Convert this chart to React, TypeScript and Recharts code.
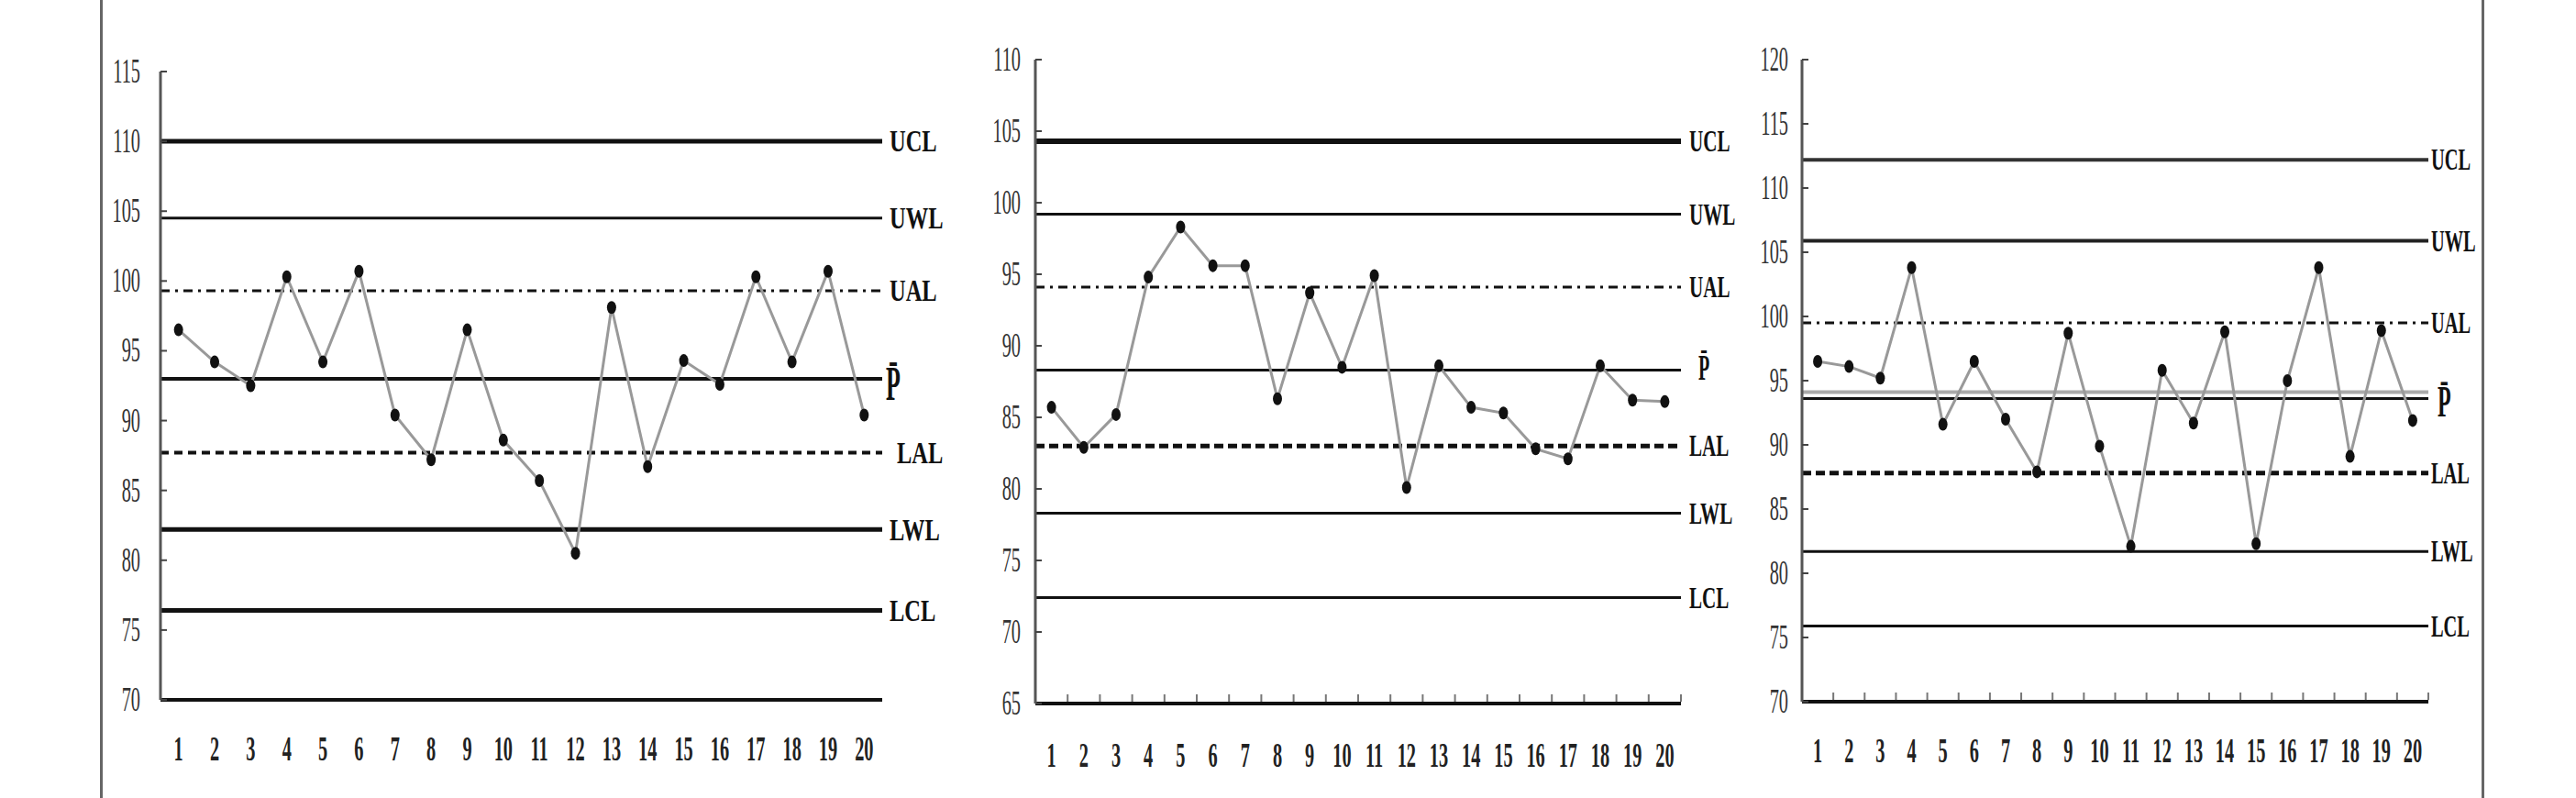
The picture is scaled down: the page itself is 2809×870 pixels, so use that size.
import { LineChart, Line, XAxis, YAxis, ReferenceLine } from 'recharts'

const categories = [1, 2, 3, 4, 5, 6, 7, 8, 9, 10, 11, 12, 13, 14, 15, 16, 17, 18, 19, 20]

const chart1Values = [96.5, 94.2, 92.5, 100.3, 94.2, 100.7, 90.4, 87.2, 96.5, 88.6, 85.7, 80.5, 98.1, 86.7, 94.3, 92.6, 100.3, 94.2, 100.7, 90.4]
const chart2Values = [85.7, 82.9, 85.2, 94.8, 98.3, 95.6, 95.6, 86.3, 93.7, 88.5, 94.9, 80.1, 88.6, 85.7, 85.3, 82.8, 82.1, 88.6, 86.2, 86.1]
const chart3Values = [96.5, 96.1, 95.2, 103.8, 91.6, 96.5, 92.0, 87.9, 98.7, 89.9, 82.1, 95.8, 91.7, 98.8, 82.3, 95.0, 103.8, 89.1, 98.9, 91.9]

const limitNames = ['UCL', 'UWL', 'UAL', 'P\u0304', 'LAL', 'LWL', 'LCL']
const chart1Limits = [110, 104.5, 99.3, 93, 87.7, 82.2, 76.4]
const chart2Limits = [104.3, 99.2, 94.1, 88.3, 83.0, 78.3, 72.4]
const chart3Limits = [112.2, 105.9, 99.5, 93.6, 87.8, 81.7, 75.9]
const chart3MeanShadow = 94.1

const chart1Ticks = [70, 75, 80, 85, 90, 95, 100, 105, 110, 115]
const chart2Ticks = [65, 70, 75, 80, 85, 90, 95, 100, 105, 110]
const chart3Ticks = [70, 75, 80, 85, 90, 95, 100, 105, 110, 115, 120]

const serif = '"Liberation Serif", "Times New Roman", serif'

// line style per limit: width + dash
type LimitStyle = { w: number; dash?: string; color?: string }
const chart1Styles: LimitStyle[] = [
  { w: 5 }, { w: 3 }, { w: 3, dash: '10 6 3 6' }, { w: 4 }, { w: 4, dash: '9 6' }, { w: 5 }, { w: 5 },
]
const chart2Styles: LimitStyle[] = [
  { w: 6 }, { w: 3 }, { w: 3, dash: '10 6 3 6' }, { w: 3 }, { w: 5, dash: '10 5' }, { w: 3 }, { w: 3 },
]
const chart3Styles: LimitStyle[] = [
  { w: 4, color: '#333' }, { w: 4, color: '#222' }, { w: 3, dash: '10 6 3 6' }, { w: 3 }, { w: 5, dash: '10 5' }, { w: 3 }, { w: 3 },
]

type LabelOpts = { size: number; sx: number; dx: number; barSize: number; barSx: number; barDx: number; barDy: number; lalDx?: number }

function limitLabel(text: string, isBar: boolean, o: LabelOpts, extraDx = 0) {
  return (props: any) => {
    const vb = props.viewBox || { x: 0, y: 0, width: 0 }
    const x = vb.x + vb.width
    const y = vb.y
    const size = isBar ? o.barSize : o.size
    const sx = isBar ? o.barSx : o.sx
    const dx = (isBar ? o.barDx : o.dx) + extraDx
    const dy = isBar ? o.barDy : 0
    return (
      <text
        transform={`translate(${x + dx},${y + dy + size * 0.33}) scale(${sx},1)`}
        fontFamily={serif}
        fontWeight="bold"
        fontSize={size}
        fill="#111"
      >
        {text}
      </text>
    )
  }
}

function yTick(gap: number) {
  return (p: any) => (
    <g transform={`translate(${p.x},${p.y})`}>
      <line x1={0} y1={0} x2={7} y2={0} stroke="#444" strokeWidth={2} />
      <text transform={`translate(${-gap},12) scale(0.55,1)`} textAnchor="end" fontFamily={serif} fontSize={37} fill="#333">
        {p.payload.value}
      </text>
    </g>
  )
}

function xTick(dy: number, step: number, marks: boolean) {
  return (p: any) => (
    <g transform={`translate(${p.x},${p.y})`}>
      {marks && <line x1={step / 2} y1={-2} x2={step / 2} y2={-10} stroke="#777" strokeWidth={2} />}
      <text transform={`translate(0,${dy}) scale(0.55,1)`} textAnchor="middle" fontFamily={serif} fontWeight="bold" fontSize={37} fill="#222">
        {p.payload.value}
      </text>
    </g>
  )
}

const dotShape = (p: any) => <ellipse key={p.index} cx={p.cx} cy={p.cy} rx={5} ry={7} fill="#111" />

interface ChartProps {
  left: number
  width: number
  margin: { top: number; right: number; bottom: number; left: number }
  values: number[]
  limits: number[]
  styles: LimitStyle[]
  ticks: number[]
  domain: [number, number]
  yGap: number
  xDy: number
  marks: boolean
  label: LabelOpts
  shadowMean?: number
}

function ControlChart({ left, width, margin, values, limits, styles, ticks, domain, yGap, xDy, marks, label, shadowMean }: ChartProps) {
  const data = categories.map((n, i) => ({ n, v: values[i] }))
  const plotW = width - margin.left - margin.right - 60
  const step = plotW / categories.length
  return (
    <div style={{ position: 'absolute', left, top: 0 }}>
      <LineChart width={width} height={870} data={data} margin={margin}>
        <XAxis
          dataKey="n"
          type="category"
          scale="band"
          interval={0}
          height={60}
          tickSize={0}
          tickMargin={0}
          tickLine={false}
          axisLine={{ stroke: '#111', strokeWidth: 4 }}
          tick={xTick(xDy, step, marks)}
        />
        <YAxis
          type="number"
          domain={domain}
          ticks={ticks}
          interval={0}
          width={60}
          tickSize={0}
          tickMargin={0}
          tickLine={false}
          axisLine={{ stroke: '#555', strokeWidth: 3 }}
          tick={yTick(yGap)}
        />
        {shadowMean !== undefined && <ReferenceLine y={shadowMean} stroke="#aaa" strokeWidth={4} />}
        {limits.map((val, i) => (
          <ReferenceLine
            key={limitNames[i]}
            y={val}
            stroke={styles[i].color || '#111'}
            strokeWidth={styles[i].w}
            strokeDasharray={styles[i].dash}
            label={limitLabel(limitNames[i], i === 3, label, i === 4 ? label.lalDx || 0 : 0)}
          />
        ))}
        <Line
          type="linear"
          dataKey="v"
          stroke="#999"
          strokeWidth={3}
          dot={dotShape}
          activeDot={false}
          isAnimationActive={false}
        />
      </LineChart>
    </div>
  )
}

export default function App() {
  return (
    <div style={{ position: 'absolute', left: 0, top: 0, width: 2809, height: 870, background: '#fff' }}>
      <div style={{ position: 'absolute', left: 109, top: 0, width: 3, height: 870, background: '#666' }} />
      <div style={{ position: 'absolute', left: 2706, top: 0, width: 3, height: 870, background: '#666' }} />
      <ControlChart
        left={0}
        width={1060}
        margin={{ top: 78, right: 98, bottom: 47, left: 115 }}
        values={chart1Values}
        limits={chart1Limits}
        styles={chart1Styles}
        ticks={chart1Ticks}
        domain={[70, 115]}
        yGap={22}
        xDy={66}
        marks={false}
        label={{ size: 34, sx: 0.72, dx: 8, barSize: 52, barSx: 0.5, barDx: 4, barDy: 6, lalDx: 8 }}
      />
      <ControlChart
        left={1000}
        width={900}
        margin={{ top: 65, right: 67, bottom: 43, left: 69 }}
        values={chart2Values}
        limits={chart2Limits}
        styles={chart2Styles}
        ticks={chart2Ticks}
        domain={[65, 110]}
        yGap={16}
        xDy={69}
        marks={true}
        label={{ size: 34, sx: 0.62, dx: 9, barSize: 40, barSx: 0.5, barDx: 19, barDy: -3 }}
      />
      <ControlChart
        left={1850}
        width={959}
        margin={{ top: 65, right: 161, bottom: 45, left: 55 }}
        values={chart3Values}
        limits={chart3Limits}
        styles={chart3Styles}
        ticks={chart3Ticks}
        domain={[70, 120]}
        yGap={15}
        xDy={66}
        marks={true}
        shadowMean={chart3MeanShadow}
        label={{ size: 34, sx: 0.6, dx: 3, barSize: 48, barSx: 0.5, barDx: 10, barDy: 4 }}
      />
    </div>
  )
}
